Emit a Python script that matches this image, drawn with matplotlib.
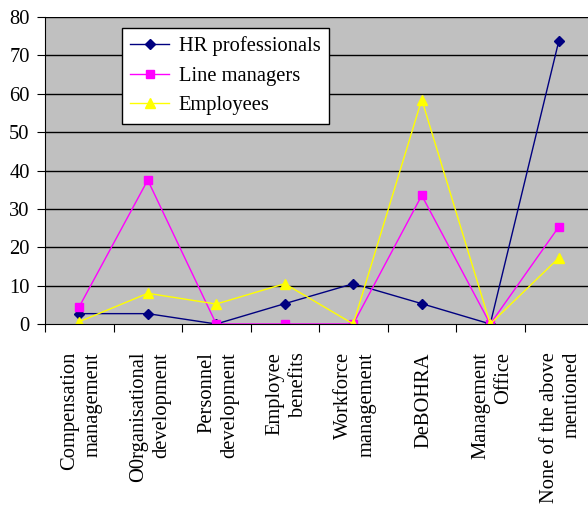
import numpy as np
import matplotlib
matplotlib.use('Agg')
import matplotlib.pyplot as plt

categories = ['Compensation\nmanagement', 'O0rganisational\ndevelopment', 'Personnel\ndevelopment',
              'Employee\nbenefits', 'Workforce\nmanagement', 'DeBOHRA', 'Management\nOffice',
              'None of the above\nmentioned']
hr_professionals = [2.7, 2.7, 0, 5.3, 10.5, 5.3, 0, 73.7]
line_managers = [4.5, 37.5, 0, 0, 0, 33.5, 0, 25.3]
employees = [0.6, 8.0, 5.2, 10.5, 0, 58.5, 0, 17.2]

plt.rcParams['font.family'] = 'Liberation Serif'
plt.rcParams['font.size'] = 14.8

fig = plt.figure(figsize=(5.88, 5.05), dpi=100)
ax = fig.add_axes([45 / 588, 1 - 324 / 505, 548 / 588, 307 / 505])
ax.set_facecolor('#C0C0C0')

x = np.arange(len(categories))
ax.plot(x, hr_professionals, color='#000080', marker='D', markersize=5.5, lw=1, label='HR professionals')
ax.plot(x, line_managers, color='#FF00FF', marker='s', markersize=6, lw=1, label='Line managers')
ax.plot(x, employees, color='#FFFF00', marker='^', markersize=7.5, lw=1, label='Employees')

ax.set_xlim(-0.5, len(categories) - 0.5)
ax.set_ylim(0, 80)
ax.set_yticks(np.arange(0, 81, 10))
for yv in np.arange(10, 81, 10):
    ax.axhline(yv, color='black', lw=1, zorder=1)

ax.set_xticks(np.arange(-0.5, len(categories), 1))
ax.set_xticklabels([])
ax.tick_params(axis='x', length=6, direction='out')
ax.tick_params(axis='y', length=6, direction='out', pad=5)
for i, lab in enumerate(categories):
    ax.annotate(lab, xy=(i, 0), xycoords=('data', 'axes fraction'), xytext=(2, -28),
                textcoords='offset pixels', rotation=90, ha='center', va='top',
                multialignment='right', linespacing=1.3)

for s in ['top', 'right']:
    ax.spines[s].set_visible(False)

leg = ax.legend(loc='upper left', bbox_to_anchor=(77 / 548, 1 - 11 / 307), borderaxespad=0,
                frameon=True, fancybox=False, edgecolor='black', framealpha=1,
                handlelength=1.9, borderpad=0.4, labelspacing=0.5, handletextpad=0.45)
leg.get_frame().set_linewidth(1)

fig.savefig('out.png', dpi=100)
